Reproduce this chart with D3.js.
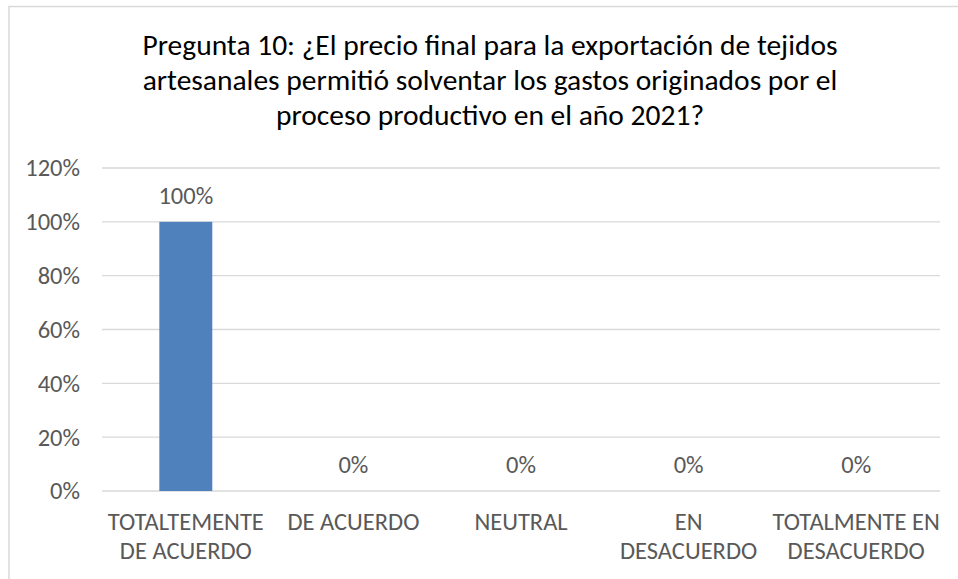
<!DOCTYPE html>
<html><head><meta charset="utf-8">
<script src="https://cdn.jsdelivr.net/npm/d3@7/dist/d3.min.js"></script>
<style>body{margin:0;background:#fff}svg{display:block}text{font-family:"Carlito","Lato","Open Sans",sans-serif}</style>
</head><body><svg id="c" width="958" height="579"></svg>
<script>
const categories = [["TOTALTEMENTE","DE ACUERDO"],["DE ACUERDO"],["NEUTRAL"],["EN","DESACUERDO"],["TOTALMENTE EN","DESACUERDO"]];
const values = [1.0, 0, 0, 0, 0];
const yTicks = [0, 0.2, 0.4, 0.6, 0.8, 1.0, 1.2];
const titleLines = ["Pregunta 10: ¿El precio final para la exportación de tejidos","artesanales permitió solventar los gastos originados por el","proceso productivo en el año 2021?"];

const svg = d3.select("#c");
const W = 958, H = 579;
const m = {l:102, r:18, t:168, b:88};
const FS = 24.5;
svg.append("rect").attr("x",9).attr("y",6.5).attr("width",W+10).attr("height",H+10)
  .attr("fill","#fff").attr("stroke","#d9d9d9").attr("stroke-width",1.5);

const ids = categories.map((c,i)=>i);
const x = d3.scaleBand().domain(ids).range([m.l, W-m.r]).paddingInner(0.684).paddingOuter(0.342);
const y = d3.scaleLinear().domain([0,1.2]).range([H-m.b, m.t]);

// gridlines
svg.append("g").selectAll("line").data(yTicks).join("line")
  .attr("x1",m.l).attr("x2",W-m.r).attr("y1",d=>y(d)).attr("y2",d=>y(d))
  .attr("stroke","#d9d9d9").attr("stroke-width",1.3);

// y axis labels
const yAxis = d3.axisLeft(y).tickValues(yTicks).tickFormat(d3.format(".0%")).tickSize(0).tickPadding(22);
const gy = svg.append("g").attr("transform",`translate(${m.l},0)`).call(yAxis);
gy.select(".domain").remove();
gy.selectAll("text").attr("fill","#595959").attr("font-size",FS).attr("font-family","Carlito, Lato, 'Open Sans', sans-serif");

// bars
svg.append("g").selectAll("rect").data(values).join("rect")
  .attr("x",(d,i)=>x(i)).attr("width",x.bandwidth())
  .attr("y",d=>y(d)).attr("height",d=>y(0)-y(d)).attr("fill","#4f81bd");

// data labels
svg.append("g").selectAll("text").data(values).join("text")
  .attr("x",(d,i)=>x(i)+x.bandwidth()/2).attr("y",d=>y(d)-18)
  .attr("text-anchor","middle").attr("fill","#595959").attr("font-size",FS)
  .text(d=>d3.format(".0%")(d));

// category labels
const gx = svg.append("g");
categories.forEach((lines,i)=>{
  const t = gx.append("text").attr("text-anchor","middle").attr("fill","#595959").attr("font-size",FS);
  lines.forEach((ln,j)=>{
    t.append("tspan").attr("x",x(i)+x.bandwidth()/2).attr("y",H-m.b+39+j*28.5).text(ln);
  });
});

// title
const tt = svg.append("text").attr("text-anchor","middle").attr("fill","#000").attr("font-size",29.5);
titleLines.forEach((ln,j)=>{
  tt.append("tspan").attr("x",490).attr("y",55+j*35).text(ln);
});
</script></body></html>
